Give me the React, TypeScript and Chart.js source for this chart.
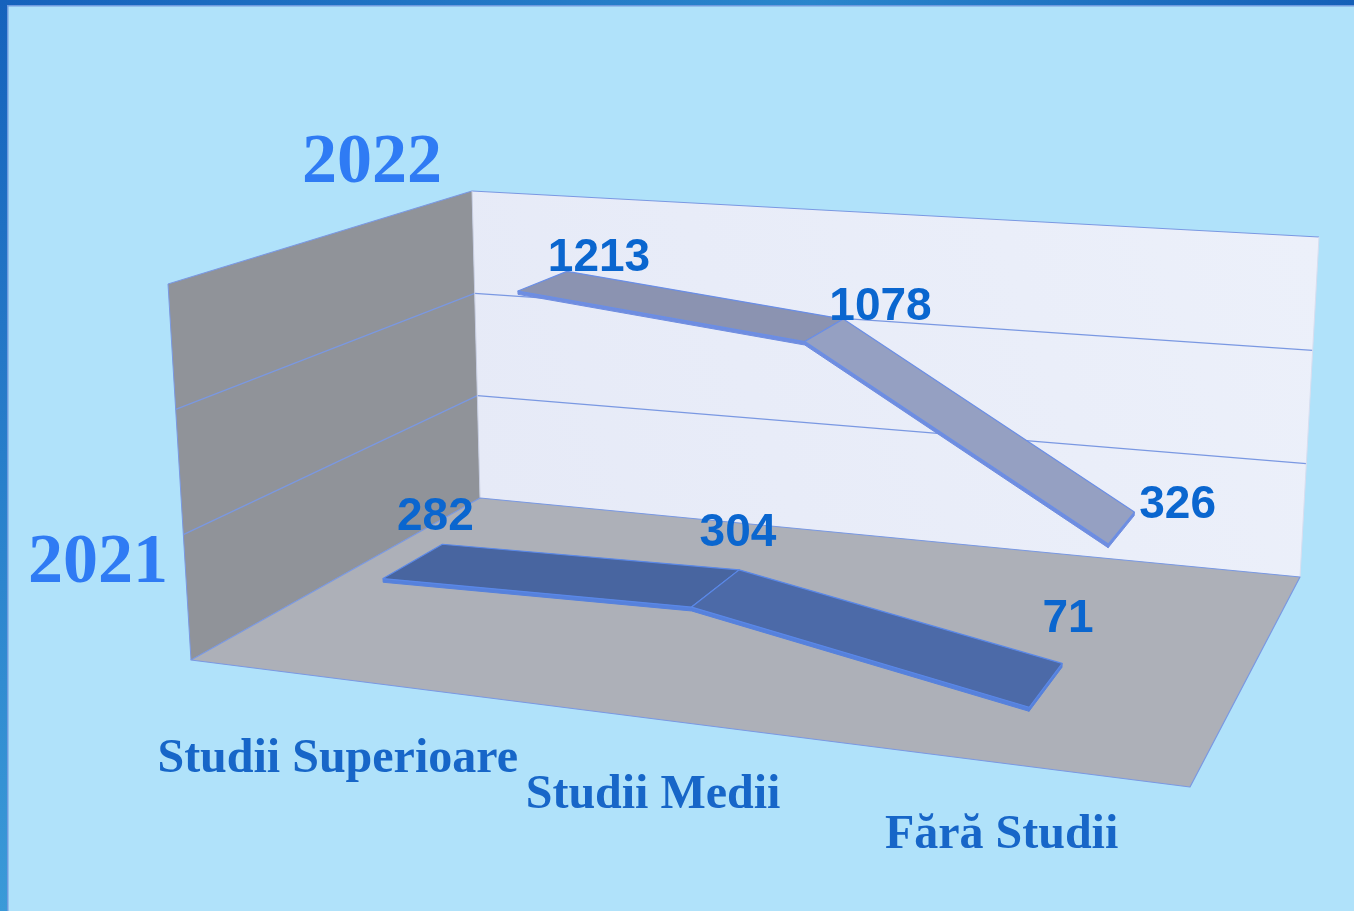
import React, { useEffect, useRef } from "react";
import { Chart, registerables } from "chart.js";

Chart.register(...registerables);

// ---------- data ----------
const categories = ["Studii Superioare", "Studii Medii", "Fără Studii"];
const seriesNames = ["2021", "2022"];
const values2021 = [282, 304, 71];
const values2022 = [1213, 1078, 326];
const valueTicks = [0, 500, 1000, 1500];

// ---------- layout / style ----------
const W = 1354;
const H = 911;
// projected corners of the 3D box (floor plane and top plane), order: (u0,w0) (u1,w0) (u1,w1) (u0,w1)
const FLOOR_QUAD = [
  [191, 660],
  [1190, 787],
  [1300, 577],
  [480, 498],
];
const TOP_QUAD = [
  [168, 284],
  [1208, 357],
  [1319, 237],
  [472, 191],
];
const RIBBON_HALF_DEPTH = 0.1; // in depth units (0..1)
const RIBBON_THICK = 0.01; // in value units (0..1)

const seriesStyles = [
  {
    top: ["#4865a0", "#4c6aa8"],
    front: "#5681dc",
    stroke: "#5a88e8",
    label: { dx: 22, dy: -26, dyPerU: -32 },
  },
  {
    top: ["#8b93b1", "#95a0c2"],
    front: "#6f8de0",
    stroke: "#6a8ee6",
    label: { dx: 56, dy: -10, dyPerU: 0 },
  },
];

function squareToQuad(q: number[][]) {
  const [[x0, y0], [x1, y1], [x2, y2], [x3, y3]] = q;
  const dx1 = x1 - x2,
    dx2 = x3 - x2,
    dx3 = x0 - x1 + x2 - x3;
  const dy1 = y1 - y2,
    dy2 = y3 - y2,
    dy3 = y0 - y1 + y2 - y3;
  const det = dx1 * dy2 - dx2 * dy1;
  const g = (dx3 * dy2 - dx2 * dy3) / det;
  const h = (dx1 * dy3 - dx3 * dy1) / det;
  const a = x1 - x0 + g * x1,
    b = x3 - x0 + h * x3,
    c = x0;
  const d = y1 - y0 + g * y1,
    e = y3 - y0 + h * y3,
    f = y0;
  return (u: number, w: number) => {
    const den = g * u + h * w + 1;
    return [(a * u + b * w + c) / den, (d * u + e * w + f) / den];
  };
}

const floorMap = squareToQuad(FLOOR_QUAD);
const topMap = squareToQuad(TOP_QUAD);

function project(u: number, v: number, w: number) {
  const p0 = floorMap(u, w);
  const p1 = topMap(u, w);
  return [p0[0] + (p1[0] - p0[0]) * v, p0[1] + (p1[1] - p0[1]) * v];
}

function poly(ctx: CanvasRenderingContext2D, pts: number[][], fill?: any, stroke?: string, lw = 1) {
  ctx.beginPath();
  pts.forEach((p, i) => (i === 0 ? ctx.moveTo(p[0], p[1]) : ctx.lineTo(p[0], p[1])));
  ctx.closePath();
  if (fill) {
    ctx.fillStyle = fill;
    ctx.fill();
  }
  if (stroke) {
    ctx.strokeStyle = stroke;
    ctx.lineWidth = lw;
    ctx.lineJoin = "round";
    ctx.stroke();
  }
}

function line(ctx: CanvasRenderingContext2D, a: number[], b: number[], color: string, lw = 1) {
  ctx.beginPath();
  ctx.moveTo(a[0], a[1]);
  ctx.lineTo(b[0], b[1]);
  ctx.strokeStyle = color;
  ctx.lineWidth = lw;
  ctx.stroke();
}

const ribbonPlugin = {
  id: "ribbon3d",
  afterDraw(chart: any) {
    const ctx: CanvasRenderingContext2D = chart.ctx;
    const area = chart.chartArea;
    const xs = chart.scales.x;
    const ys = chart.scales.y;
    const U = (i: number) => (xs.getPixelForValue(i) - area.left) / (area.right - area.left);
    const V = (val: number) => (area.bottom - ys.getPixelForValue(val)) / (area.bottom - area.top);

    ctx.save();
    // page background
    ctx.fillStyle = "#b0e2fa";
    ctx.fillRect(0, 0, W, H);
    const gTop = ctx.createLinearGradient(0, 0, W, 0);
    gTop.addColorStop(0, "#1662bc");
    gTop.addColorStop(0.6, "#2a86cc");
    gTop.addColorStop(1, "#1560b8");
    ctx.fillStyle = gTop;
    ctx.fillRect(0, 0, W, 5);
    const gLeft = ctx.createLinearGradient(0, 0, 0, H);
    gLeft.addColorStop(0, "#1662bc");
    gLeft.addColorStop(1, "#3a9ad8");
    ctx.fillStyle = gLeft;
    ctx.fillRect(0, 0, 7, H);
    ctx.fillStyle = "#6f9ade";
    ctx.fillRect(7, 5, W - 7, 1.5);
    ctx.fillRect(7, 5, 1.5, H - 5);

    const edge = "#7a98e2";
    // walls
    const leftWall = [project(0, 0, 0), project(0, 0, 1), project(0, 1, 1), project(0, 1, 0)];
    const backWall = [project(0, 0, 1), project(1, 0, 1), project(1, 1, 1), project(0, 1, 1)];
    const floor = [project(0, 0, 0), project(1, 0, 0), project(1, 0, 1), project(0, 0, 1)];
    poly(ctx, leftWall, "#909399");
    const gBack = ctx.createLinearGradient(480, 500, 1300, 200);
    gBack.addColorStop(0, "#e6eaf7");
    gBack.addColorStop(1, "#ecf0fa");
    poly(ctx, backWall, gBack);
    poly(ctx, floor, "#adb0b8");

    // gridlines
    valueTicks.forEach((t) => {
      const v = V(t);
      if (v <= 0.001 || v >= 0.999) return;
      line(ctx, project(0, v, 0), project(0, v, 1), edge, 1.2);
      line(ctx, project(0, v, 1), project(1, v, 1), edge, 1.2);
    });
    // edges
    line(ctx, project(0, 1, 0), project(0, 1, 1), edge, 1.2);
    line(ctx, project(0, 1, 1), project(1, 1, 1), edge, 1.2);
    line(ctx, project(1, 1, 1), project(1, 0, 1), "#d8def0", 1);
    line(ctx, project(0, 0, 0), project(0, 1, 0), edge, 1);
    line(ctx, project(0, 0, 1), project(0, 1, 1), "#c8cde0", 1);
    poly(ctx, floor, undefined, edge, 1.2);

    // ribbons (back series first)
    const datasets = chart.data.datasets;
    const n = datasets.length;
    const order = datasets.map((_: any, i: number) => i).reverse();
    const labelJobs: any[] = [];
    order.forEach((di: number) => {
      const ds = datasets[di];
      const st = seriesStyles[di];
      const wc = (di + 0.5) / n;
      const wf = wc - RIBBON_HALF_DEPTH;
      const wb = wc + RIBBON_HALF_DEPTH;
      const pts = ds.data.map((val: number, i: number) => ({ u: U(i), v: V(val), val }));
      for (let i = 0; i < pts.length - 1; i++) {
        const p = pts[i],
          q = pts[i + 1];
        const A0 = project(p.u, p.v, wf);
        const A1 = project(q.u, q.v, wf);
        const B1 = project(q.u, q.v, wb);
        const B0 = project(p.u, p.v, wb);
        const A0d = project(p.u, p.v - RIBBON_THICK, wf);
        const A1d = project(q.u, q.v - RIBBON_THICK, wf);
        poly(ctx, [A0, A1, A1d, A0d], st.front, st.front, 1);
        if (i === pts.length - 2) {
          const B1d = project(q.u, q.v - RIBBON_THICK, wb);
          poly(ctx, [A1, B1, B1d, A1d], st.front, st.front, 1);
        }
        poly(ctx, [A0, A1, B1, B0], st.top[i % st.top.length], st.stroke, 1.2);
      }
      pts.forEach((p: any) => {
        const c = project(p.u, p.v, wc);
        labelJobs.push({
          x: c[0] + st.label.dx,
          y: c[1] + st.label.dy + st.label.dyPerU * p.u,
          text: String(p.val),
        });
      });
    });

    // data labels
    ctx.fillStyle = "#0a66cf";
    ctx.font = "bold 46px 'Liberation Sans', Arial, sans-serif";
    ctx.textAlign = "center";
    ctx.textBaseline = "alphabetic";
    labelJobs.forEach((j) => ctx.fillText(j.text, j.x, j.y));

    // category labels
    ctx.fillStyle = "#1766c8";
    ctx.font = "bold 48px 'Liberation Serif', 'Times New Roman', serif";
    chart.data.labels.forEach((lab: string, i: number) => {
      const u = U(i);
      const p = project(u, 0, 0);
      ctx.fillText(lab, p[0], p[1] + 95 - 12 * u);
    });

    // series (depth axis) labels
    ctx.fillStyle = "#2f7bf4";
    ctx.font = "bold 70px 'Liberation Serif', 'Times New Roman', serif";
    ctx.fillText(seriesNames[1], 372, 182);
    ctx.fillText(seriesNames[0], 98, 582);

    ctx.restore();
  },
};

export default function App() {
  const ref = useRef<HTMLCanvasElement | null>(null);
  useEffect(() => {
    if (!ref.current) return;
    const chart = new Chart(ref.current, {
      type: "line",
      data: {
        labels: categories,
        datasets: [
          { label: seriesNames[0], data: values2021, showLine: false, pointRadius: 0 },
          { label: seriesNames[1], data: values2022, showLine: false, pointRadius: 0 },
        ],
      },
      options: {
        animation: false,
        responsive: false,
        maintainAspectRatio: false,
        devicePixelRatio: 1,
        layout: { padding: 0 },
        plugins: { legend: { display: false }, tooltip: { enabled: false } },
        scales: {
          x: { type: "category", offset: true, display: false },
          y: { min: 0, max: 1500, display: false, ticks: { stepSize: 500 } },
        },
      },
      plugins: [ribbonPlugin],
    } as any);
    return () => chart.destroy();
  }, []);
  return (
    <div style={{ position: "fixed", left: 0, top: 0, width: W, height: H, overflow: "hidden" }}>
      <canvas ref={ref} width={W} height={H} style={{ display: "block", width: W, height: H }} />
    </div>
  );
}
